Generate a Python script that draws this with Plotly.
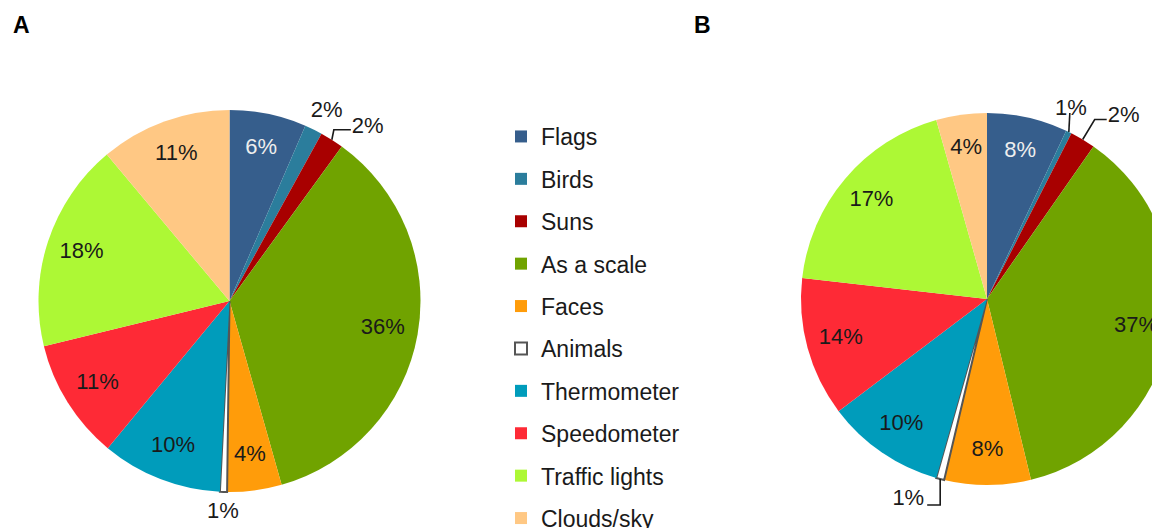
import math
import plotly.graph_objects as go

# ---- data ----
categories = ["Flags", "Birds", "Suns", "As a scale", "Faces", "Animals",
              "Thermometer", "Speedometer", "Traffic lights", "Clouds/sky"]
colors = ["#365E8C", "#2B7D9C", "#A80000", "#70A300", "#FF9C0A", "#FFFFFF",
          "#009CBB", "#FE2A36", "#ADF835", "#FFC884"]

# slice shares (percent)
shares_a = [6.5, 1.5, 2.0, 35.6, 4.6, 0.6, 10.2, 10.2, 17.7, 11.1]
shares_b = [7.0, 0.5, 2.2, 36.5, 7.5, 0.7, 10.3, 12.1, 18.8, 4.4]
# printed percentage labels
labels_a = [6, 2, 2, 36, 4, 1, 10, 11, 18, 11]
labels_b = [8, 1, 2, 37, 8, 1, 10, 14, 17, 4]

panel_letters = ["A", "B"]

# ---- styling / layout constants ----
FONT = "Liberation Sans, Arial, Helvetica, sans-serif"
W, H = 1210, 528          # wider than the window so the right pie is cut like the original
OFF = 8                   # page body margin
DARK = "#1A1A1A"

textcol = ["#EEEEEE" if c == "Flags" else DARK for c in categories]
line_w = [2 if c == "Animals" else 0 for c in categories]
line_c = ["#555555" if c == "Animals" else "#FFFFFF" for c in categories]

# outside labels: leader offsets (px, screen) from the slice edge, text placement
outside_a = {
    "Birds": dict(leader=[], text_r=1.12, text_off=(3, 3), pos="middle center"),
    "Suns": dict(leader=[(2, -10), (19, -10)], text_off=(1, -2), pos="middle right"),
    "Animals": dict(leader=[], text_r=1.11, text_off=(0, 0), pos="middle center"),
}
outside_b = {
    "Birds": dict(leader=[(1, -19)], text_off=(1, 8), pos="top center"),
    "Suns": dict(leader=[(12, -20), (24, -20)], text_off=(1, -3), pos="middle right"),
    "Animals": dict(leader=[(0, 26), (-13, 26)], text_off=(-3, -6), pos="middle left"),
}

panels = [
    dict(key="polar", shares=shares_a, labels=labels_a, cx=229.5, cy=301, R=191, k=1.155,
         outside=outside_a, letter_x=21.5),
    dict(key="polar2", shares=shares_b, labels=labels_b, cx=987, cy=299, R=186, k=1.2,
         outside=outside_b, letter_x=702),
]


def slice_angles(shares):
    tot = float(sum(shares))
    widths = [360.0 * s / tot for s in shares]
    mids, acc = [], 0.0
    for w in widths:
        mids.append(acc + w / 2)
        acc += w
    return widths, mids


def shifted(theta, r0, dx, dy, R):
    """point at (r0, theta) moved by (dx, dy) screen pixels -> (r, theta)"""
    t = math.radians(theta)
    x = r0 * R * math.sin(t) + dx
    y = r0 * R * math.cos(t) - dy
    return math.hypot(x, y) / R, math.degrees(math.atan2(x, y)) % 360


fig = go.Figure()
layout_polars = {}
annotations = []

for p in panels:
    widths, mids = slice_angles(p["shares"])
    sp = p["key"]
    R, k = p["R"], p["k"]

    # slices
    fig.add_trace(go.Barpolar(
        r=[1] * len(categories), theta=mids, width=widths, base=0,
        marker=dict(color=colors, line=dict(color=line_c, width=line_w)),
        subplot=sp, showlegend=False, hoverinfo="skip",
    ))

    # inside labels
    ins = [i for i, c in enumerate(categories) if c not in p["outside"]]
    fig.add_trace(go.Scatterpolar(
        r=[0.815] * len(ins), theta=[mids[i] for i in ins],
        text=[f"{p['labels'][i]}%" for i in ins], mode="text",
        textposition="middle center", cliponaxis=False,
        textfont=dict(family=FONT, size=22, color=[textcol[i] for i in ins]),
        subplot=sp, showlegend=False, hoverinfo="skip",
    ))

    # outside labels with leader lines
    for c, spec in p["outside"].items():
        i = categories.index(c)
        th = mids[i]
        tx, ty = spec["text_off"]
        if spec["leader"]:
            rr, tt = [1.0], [th]
            for dx, dy in spec["leader"]:
                r_, t_ = shifted(th, 1.0, dx, dy, R)
                rr.append(r_)
                tt.append(t_)
            fig.add_trace(go.Scatterpolar(
                r=rr, theta=tt, mode="lines",
                line=dict(color=DARK, width=1.6),
                subplot=sp, showlegend=False, hoverinfo="skip",
            ))
            lx, ly = spec["leader"][-1]
            r_t, t_t = shifted(th, 1.0, lx + tx, ly + ty, R)
        else:
            r_t, t_t = shifted(th, spec["text_r"], tx, ty, R)
        fig.add_trace(go.Scatterpolar(
            r=[r_t], theta=[t_t], text=[f"{p['labels'][i]}%"], mode="text",
            textposition=spec["pos"], cliponaxis=False,
            textfont=dict(family=FONT, size=22, color=DARK),
            subplot=sp, showlegend=False, hoverinfo="skip",
        ))

    cxf, cyf, half = p["cx"] - OFF, p["cy"] - OFF, k * R
    layout_polars[sp] = dict(
        domain=dict(x=[max(0.0, (cxf - half) / W), (cxf + half) / W],
                    y=[(H - (cyf + half)) / H, (H - (cyf - half)) / H]),
        bgcolor="rgba(0,0,0,0)",
        bargap=0,
        radialaxis=dict(range=[0, k], visible=False),
        angularaxis=dict(rotation=90, direction="clockwise", visible=False),
    )

    annotations.append(dict(
        text=f"<b>{panel_letters[panels.index(p)]}</b>",
        x=(p["letter_x"] - OFF) / W, y=1 - (25 - OFF) / H, xref="paper", yref="paper",
        xanchor="center", yanchor="middle", showarrow=False,
        font=dict(family=FONT, size=23, color="#000000")))

# legend entries (one per category)
for name, col in zip(categories, colors):
    is_white = name == "Animals"
    fig.add_trace(go.Scatter(
        x=[None], y=[None], mode="markers", name=name, legendgroup=name,
        marker=dict(symbol="square", size=12, color=col,
                    line=dict(color="#555555" if is_white else col,
                              width=2 if is_white else 0)),
        hoverinfo="skip",
    ))

fig.update_layout(
    width=W, height=H,
    margin=dict(l=0, r=0, t=0, b=0, autoexpand=False),
    paper_bgcolor="#FFFFFF", plot_bgcolor="#FFFFFF",
    xaxis=dict(visible=False), yaxis=dict(visible=False),
    legend=dict(x=(541 - 40 - OFF) / W, y=1 - (115 - OFF) / H,
                xanchor="left", yanchor="top",
                font=dict(family=FONT, size=23, color=DARK),
                tracegroupgap=9.5, itemsizing="constant",
                bgcolor="rgba(0,0,0,0)"),
    annotations=annotations,
    font=dict(family=FONT),
    **layout_polars,
)

fig.write_html("out.html")
